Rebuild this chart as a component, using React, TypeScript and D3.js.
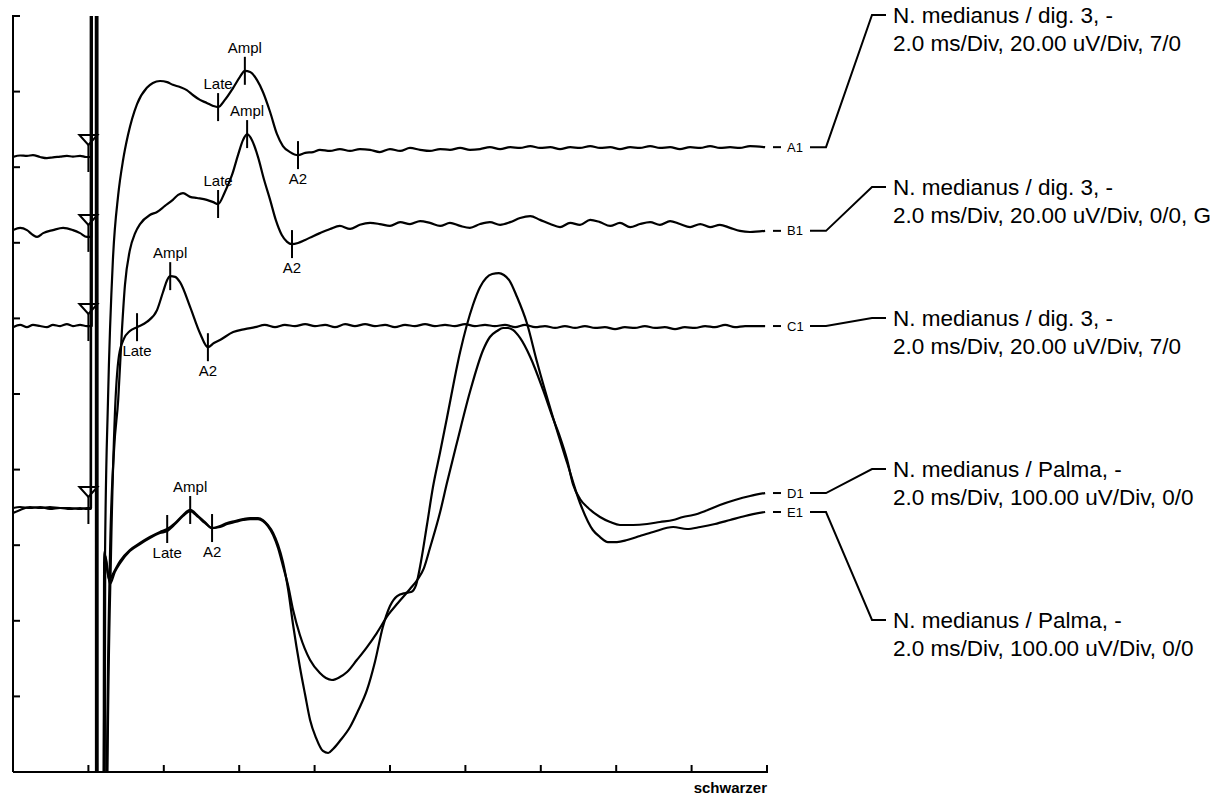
import React from "react";
import * as d3 from "d3";

type Pt = [number, number]; // [time ms, amplitude uV]

// ---------- axes ----------
const timeDomain: [number, number] = [0, 20]; // 2.0 ms/Div, 10 Div
const timeTicks = d3.range(0, 20.001, 2);
const divTicks = d3.range(0, 10.001, 1);
const stimulusTime = 2.0;
const footerLabel = "schwarzer";

// ---------- traces (ms, uV) ----------
const traceA: Pt[] = [
  [0, 0], [0.19, 0.4], [0.37, 0.3], [0.53, 0.5], [0.72, 0], [0.9, -0.3], [1.06, -0.1], [1.25, 0.1],
  [1.43, 0.3], [1.59, 0.1], [1.78, 0.3], [1.94, 0], [2.0, 0], [2.07, 0],
  [2.09, 1000], [2.2, 1000], [2.24, -1000], [2.32, -1000], [2.4, -180],
  [2.44, -106.6], [2.52, -64.3], [2.65, -27.2], [2.79, -10.1], [2.92, -0.8], [3.05, 5.8], [3.29, 14.0],
  [3.55, 18.3], [3.71, 19.6], [3.9, 20.1], [4.09, 19.8], [4.24, 19.1], [4.43, 18.5], [4.61, 17.7],
  [4.77, 16.4], [4.96, 15.1], [5.14, 14.3], [5.31, 13.5], [5.44, 13.2], [5.62, 15.1], [5.84, 18.3],
  [6.02, 21.2], [6.15, 22.8], [6.29, 22.5], [6.47, 20.4], [6.63, 17.2], [6.82, 11.9], [7.0, 6.1],
  [7.16, 2.9], [7.35, 1.3], [7.56, 0.5], [7.75, 1.1], [7.96, 1.3],
  [8.14, 1.9], [8.41, 1.6], [8.67, 2.1], [8.94, 1.6], [9.2, 2.1], [9.47, 1.9], [9.73, 1.3], [10.0, 2.1],
  [10.27, 1.6], [10.53, 2.4], [10.8, 1.9], [11.06, 1.6], [11.33, 2.1], [11.59, 1.9], [11.86, 2.4],
  [12.12, 1.9], [12.39, 2.1], [12.65, 2.6], [12.92, 2.1], [13.19, 2.6], [13.45, 2.4], [13.72, 2.9],
  [13.98, 2.4], [14.25, 2.6], [14.51, 2.1], [14.78, 2.6], [15.04, 2.4], [15.31, 2.9], [15.57, 2.4],
  [15.84, 2.6], [16.1, 2.1], [16.37, 2.6], [16.63, 2.4], [16.9, 2.9], [17.16, 2.4], [17.43, 2.6],
  [17.69, 2.1], [17.96, 2.6], [18.23, 2.4], [18.49, 2.9], [18.75, 2.4], [19.02, 2.6], [19.28, 2.4],
  [19.55, 2.9], [19.95, 2.6],
];

const traceB: Pt[] = [
  [0, 0.5], [0.19, 1.1], [0.37, 0.5], [0.53, -0.8], [0.64, -1.3], [0.8, -0.3], [1.06, 0.5], [1.33, 1.1],
  [1.59, 0.5], [1.78, -0.3], [1.96, -1.3], [2.0, -1.3], [2.08, -1.3],
  [2.1, 1000], [2.21, 1000], [2.25, -1000], [2.33, -1000], [2.47, -170],
  [2.57, -86.8], [2.68, -57.7], [2.79, -44.5], [2.89, -25.9], [2.97, -14.0], [3.1, -4.8], [3.24, -0.3],
  [3.37, 2.1], [3.63, 4.5], [3.82, 5.3], [4.03, 6.9], [4.24, 8.5], [4.38, 9.8], [4.51, 10.3], [4.7, 9.3],
  [4.88, 9.0], [5.14, 8.5], [5.31, 7.9], [5.44, 7.4], [5.62, 10.6], [5.81, 15.1], [5.97, 20.4],
  [6.1, 24.3], [6.21, 25.9], [6.34, 24.3], [6.5, 19.8], [6.66, 13.8], [6.82, 8.5], [6.97, 3.2],
  [7.13, -0.8], [7.27, -2.6], [7.4, -3.2], [7.56, -2.9], [7.75, -2.1], [7.96, -1.1], [8.14, -0.3],
  [8.41, 0.8], [8.67, 1.6], [8.94, 0.8], [9.2, 1.9], [9.47, 2.4], [9.73, 2.1], [10.0, 1.6], [10.27, 2.6],
  [10.53, 2.1], [10.8, 2.9], [11.06, 2.4], [11.33, 1.6], [11.59, 2.4], [11.86, 1.6], [12.12, 1.1],
  [12.39, 2.1], [12.65, 2.6], [12.92, 1.9], [13.19, 2.6], [13.45, 3.7], [13.72, 4.2], [13.98, 3.2],
  [14.25, 2.1], [14.51, 1.3], [14.78, 2.4], [15.04, 1.9], [15.31, 3.2], [15.57, 2.6], [15.84, 1.6],
  [16.1, 2.4], [16.37, 1.3], [16.63, 2.1], [16.9, 2.6], [17.16, 1.9], [17.43, 2.9], [17.69, 2.1],
  [17.96, 1.3], [18.23, 2.1], [18.49, 1.3], [18.75, 1.9], [19.02, 1.1], [19.28, 0.3], [19.55, 0],
  [19.95, 0.3],
];

const traceC: Pt[] = [
  [0, -0.3], [0.19, 0.3], [0.37, -0.3], [0.53, 0.3], [0.72, 0], [0.9, -0.3], [1.06, 0.3], [1.25, 0],
  [1.43, 0.5], [1.59, 0], [1.78, 0.3], [1.96, 0], [2.0, 0], [2.09, 0],
  [2.11, 1000], [2.22, 1000], [2.26, -1000], [2.36, -1000], [2.5, -125],
  [2.6, -60], [2.7, -24], [2.81, -7.9], [2.94, -3.4], [3.1, -1.3], [3.29, -0.3], [3.55, 1.1],
  [3.82, 4.2], [3.98, 9.0], [4.09, 12.2], [4.17, 13.2], [4.3, 13.0], [4.43, 11.6], [4.7, 5.0],
  [4.96, -1.9], [5.17, -5.6], [5.33, -4.5], [5.49, -3.7], [5.84, -1.6], [6.15, -0.8], [6.42, -0.3],
  [6.68, 0.3], [6.95, -0.3], [7.21, 0.3], [7.48, 0], [7.75, 0.5], [8.01, 0], [8.28, 0.3], [8.54, -0.3],
  [8.81, 0.5], [9.07, 0], [9.34, 0.5], [9.6, 0], [9.87, 0.3], [10.13, -0.3], [10.4, 0.3], [10.66, 0],
  [10.93, 0.5], [11.19, 0], [11.46, 0.3], [11.72, 0], [11.99, 0.5], [12.25, 0], [12.52, 0.3], [12.78, 0],
  [13.05, 0.3], [13.32, -0.3], [13.58, 0.3], [13.85, -0.3], [14.11, 0], [14.38, -0.5], [14.64, 0],
  [14.91, -0.5], [15.17, 0], [15.44, -0.5], [15.7, -0.3], [15.97, -0.8], [16.23, -0.3], [16.5, -0.5],
  [16.76, 0], [17.03, -0.5], [17.29, -0.3], [17.56, -0.8], [17.82, -0.3], [18.09, -0.5], [18.36, 0],
  [18.62, -0.3], [18.89, 0.3], [19.15, -0.3], [19.42, 0], [19.68, 0], [19.95, 0],
];

const traceD: Pt[] = [
  [0, 0], [0.19, 1.3], [0.45, 0], [0.72, 1.3], [0.98, -1.3], [1.25, 0], [1.51, -1.3], [1.78, 0],
  [1.96, -1.3], [2.0, -1.3], [2.06, -1.3],
  [2.08, 5000], [2.18, 5000], [2.22, -5000], [2.33, -5000], [2.42, -58],
  [2.55, -95.2], [2.65, -87.3], [2.84, -70.1], [3.1, -55.6], [3.37, -46.3], [3.63, -38.4], [3.9, -31.7],
  [4.09, -27.8], [4.3, -19.8], [4.51, -9.3], [4.7, -2.6], [4.91, -10.6], [5.09, -18.5], [5.28, -26.5],
  [5.49, -25.1], [5.68, -21.2], [5.89, -18.5], [6.1, -15.9], [6.29, -14.6], [6.5, -14.6], [6.63, -17.2],
  [6.76, -23.8], [6.9, -35.7], [7.03, -52.9], [7.16, -76.7], [7.3, -103.2], [7.43, -134.9],
  [7.61, -168.0], [7.88, -201.1], [8.14, -218.3], [8.3, -224.9], [8.46, -227.5], [8.67, -223.6],
  [8.86, -216.9], [9.12, -201.1], [9.39, -183.9], [9.65, -165.4], [9.95, -141.5], [10.21, -125.7],
  [10.53, -107.1], [10.74, -93.9], [10.9, -79.4], [11.06, -52.9], [11.33, -5.3], [11.51, 33.1],
  [11.78, 87.3], [12.12, 153.4], [12.47, 209.0], [12.65, 226.2], [12.84, 234.1], [13.0, 238.1],
  [13.13, 238.1], [13.26, 235.5], [13.45, 224.9], [13.72, 199.7], [14.06, 156.1], [14.32, 119.1],
  [14.51, 93.9], [14.7, 63.5], [14.86, 30.4], [15.04, 11.9], [15.23, 1.3], [15.57, -11.9],
  [15.84, -18.5], [16.1, -22.5], [16.45, -22.5], [16.82, -21.2], [17.16, -18.5], [17.51, -15.9],
  [17.77, -11.9], [18.04, -9.3], [18.36, -4.0], [18.75, 4.0], [19.15, 10.6], [19.55, 15.9], [19.95, 19.8],
];

const traceE: Pt[] = [
  [0, -6.6], [0.19, -2.6], [0.45, 1.3], [0.72, 0], [0.98, 1.3], [1.25, 0], [1.51, 0], [1.78, -1.3],
  [1.96, 0], [2.0, 0], [2.07, 0],
  [2.1, 5000], [2.2, 5000], [2.24, -5000], [2.35, -5000], [2.45, -63.5],
  [2.57, -100.5], [2.7, -84.7], [2.84, -72.8], [3.1, -56.9], [3.37, -47.6], [3.63, -39.7], [3.9, -33.1],
  [4.09, -30.4], [4.3, -21.2], [4.51, -10.6], [4.7, -4.0], [4.91, -11.9], [5.09, -19.8], [5.28, -26.5],
  [5.49, -23.8], [5.68, -19.8], [5.89, -17.2], [6.1, -14.6], [6.29, -13.2], [6.5, -13.2], [6.63, -15.9],
  [6.76, -22.5], [6.9, -33.1], [7.03, -48.9], [7.16, -71.4], [7.3, -108.5], [7.43, -154.8],
  [7.61, -210.3], [7.75, -247.4], [7.88, -280.4], [8.04, -304.2], [8.22, -321.4], [8.36, -324.1],
  [8.49, -318.8], [8.67, -308.2], [8.94, -289.7], [9.15, -268.5], [9.39, -240.7], [9.6, -203.7],
  [9.81, -157.4], [10.0, -129.6], [10.19, -116.4], [10.4, -112.4], [10.56, -111.1], [10.69, -101.9],
  [10.82, -71.4], [10.98, -22.5], [11.14, 27.8], [11.33, 74.1], [11.51, 119.1], [11.86, 206.4],
  [12.2, 268.5], [12.39, 292.3], [12.55, 304.2], [12.71, 309.5], [12.89, 310.8], [13.02, 308.2],
  [13.16, 301.5], [13.37, 279.1], [13.63, 244.7], [13.9, 193.1], [14.32, 120.4], [14.7, 59.5],
  [15.04, 6.6], [15.38, -29.1], [15.57, -38.4], [15.78, -45.0], [16.02, -45.0], [16.29, -42.3],
  [16.63, -37.0], [16.98, -31.7], [17.51, -25.1], [17.88, -27.8], [18.23, -25.1], [18.62, -21.2],
  [19.02, -15.9], [19.42, -10.6], [19.95, -5.3],
];

// ---------- annotations ----------
type Marker = { label: string; t: number; pos: "above" | "below" };
const markersA: Marker[] = [
  { label: "Late", t: 5.44, pos: "above" },
  { label: "Ampl", t: 6.15, pos: "above" },
  { label: "A2", t: 7.56, pos: "below" },
];
const markersB: Marker[] = [
  { label: "Late", t: 5.44, pos: "above" },
  { label: "Ampl", t: 6.21, pos: "above" },
  { label: "A2", t: 7.4, pos: "below" },
];
const markersC: Marker[] = [
  { label: "Late", t: 3.29, pos: "below" },
  { label: "Ampl", t: 4.17, pos: "above" },
  { label: "A2", t: 5.17, pos: "below" },
];
const markersD: Marker[] = [
  { label: "Late", t: 4.09, pos: "below" },
  { label: "Ampl", t: 4.7, pos: "above" },
  { label: "A2", t: 5.28, pos: "below" },
];

const traceIds = ["A1", "B1", "C1", "D1", "E1"];
const sensitivities = [20, 20, 20, 100, 100]; // uV/Div
const legendLine1 = [
  "N. medianus / dig. 3, -",
  "N. medianus / dig. 3, -",
  "N. medianus / dig. 3, -",
  "N. medianus / Palma, -",
  "N. medianus / Palma, -",
];
const legendLine2 = [
  "2.0 ms/Div, 20.00 uV/Div, 7/0",
  "2.0 ms/Div, 20.00 uV/Div, 0/0, G",
  "2.0 ms/Div, 20.00 uV/Div, 7/0",
  "2.0 ms/Div, 100.00 uV/Div, 0/0",
  "2.0 ms/Div, 100.00 uV/Div, 0/0",
];

// ---------- layout ----------
const W = 1218;
const H = 796;
const M = { left: 13, right: 767, top: 16, bottom: 772 };
const FONT = "'Liberation Sans', Arial, Helvetica, sans-serif";

const traceLayout = [
  { data: traceA, offset: 8.135, markers: markersA, stim: true, legendY: 15 },
  { data: traceB, offset: 7.143, markers: markersB, stim: true, legendY: 187 },
  { data: traceC, offset: 5.899, markers: markersC, stim: true, legendY: 318 },
  { data: traceD, offset: 3.492, markers: markersD, stim: true, legendY: 469 },
  { data: traceE, offset: 3.492, markers: [] as Marker[], stim: false, legendY: 620 },
];

function valueAt(data: Pt[], t: number): number {
  const i = d3.bisector((d: Pt) => d[0]).left(data, t);
  if (i <= 0) return data[0][1];
  if (i >= data.length) return data[data.length - 1][1];
  const a = data[i - 1];
  const b = data[i];
  const f = (t - a[0]) / (b[0] - a[0]);
  return a[1] + f * (b[1] - a[1]);
}

export default function App() {
  const x = d3.scaleLinear().domain(timeDomain).range([M.left, M.right]);
  const y = d3.scaleLinear().domain([0, 10]).range([M.bottom, M.top]);

  const traces = traceLayout.map((l, i) => ({
    ...l,
    id: traceIds[i],
    sens: sensitivities[i],
    l1: legendLine1[i],
    l2: legendLine2[i],
  }));

  const yOf = (off: number, sens: number, v: number) => y(off + v / sens);

  const tickLen = 7;
  const mLen = 14;

  return (
    <svg
      width={W}
      height={H}
      style={{ position: "absolute", left: 0, top: 0, display: "block", background: "#fff" }}
      fontFamily={FONT}
    >
      <defs>
        <clipPath id="plotClip">
          <rect x={M.left} y={M.top} width={M.right - M.left} height={M.bottom - M.top} />
        </clipPath>
      </defs>

      {/* axes */}
      <g stroke="#000" strokeWidth={2} fill="none">
        <line x1={M.left} y1={M.top - 1} x2={M.left} y2={M.bottom} />
        <line x1={M.left} y1={M.bottom} x2={M.right + 1} y2={M.bottom} />
        {divTicks.map((d) => (
          <line key={"yt" + d} x1={M.left} x2={M.left + tickLen} y1={y(d)} y2={y(d)} />
        ))}
        {timeTicks.map((t) => (
          <line key={"xt" + t} x1={x(t)} x2={x(t)} y1={M.bottom} y2={M.bottom - tickLen} />
        ))}
      </g>
      <text x={M.right} y={793} textAnchor="end" fontSize={15} fontWeight="bold" fill="#000">
        {footerLabel}
      </text>

      {/* traces */}
      <g clipPath="url(#plotClip)" fill="none" stroke="#000" strokeWidth={2.2} strokeLinejoin="round">
        {traces.map((tr) => {
          const line = d3
            .line<Pt>()
            .x((d) => x(d[0]))
            .y((d) => yOf(tr.offset, tr.sens, d[1]))
            .curve(d3.curveMonotoneX);
          return <path key={tr.id} d={line(tr.data) || ""} />;
        })}
      </g>

      {/* stimulus markers */}
      <g fill="none" stroke="#000" strokeWidth={2}>
        {traces
          .filter((tr) => tr.stim)
          .map((tr) => {
            const sx = x(stimulusTime);
            const sy = yOf(tr.offset, tr.sens, valueAt(tr.data, stimulusTime - 0.01));
            const top = sy - 22;
            return (
              <g key={"stim" + tr.id}>
                <path d={`M${sx - 9},${top} L${sx + 9},${top} L${sx},${top + 10} Z`} />
                <line x1={sx} x2={sx} y1={top + 10} y2={sy + 15} />
              </g>
            );
          })}
      </g>

      {/* latency markers */}
      {traces.map((tr) =>
        tr.markers.map((m) => {
          const mx = x(m.t);
          const my = yOf(tr.offset, tr.sens, valueAt(tr.data, m.t));
          const ty = m.pos === "above" ? my - mLen - 4 : my + mLen + 15;
          return (
            <g key={tr.id + m.label}>
              <line x1={mx} x2={mx} y1={my - mLen} y2={my + mLen} stroke="#000" strokeWidth={2} />
              <text x={mx} y={ty} textAnchor="middle" fontSize={15} fill="#000">
                {m.label}
              </text>
            </g>
          );
        })
      )}

      {/* trace labels and legend */}
      {traces.map((tr) => {
        const last = tr.data[tr.data.length - 1];
        const ey = yOf(tr.offset, tr.sens, last[1]);
        const ly = tr.legendY;
        return (
          <g key={"leg" + tr.id}>
            <line x1={773} x2={781} y1={ey} y2={ey} stroke="#000" strokeWidth={2} />
            <text x={787} y={ey} dy="0.35em" fontSize={13} fill="#000">
              {tr.id}
            </text>
            <path
              d={`M810,${ey} L826,${ey} L872,${ly} L886,${ly}`}
              fill="none"
              stroke="#000"
              strokeWidth={2}
            />
            <text x={893} y={ly + 8} fontSize={22.5} fill="#000">
              {tr.l1}
            </text>
            <text x={893} y={ly + 36} fontSize={22.5} fill="#000">
              {tr.l2}
            </text>
          </g>
        );
      })}
    </svg>
  );
}
